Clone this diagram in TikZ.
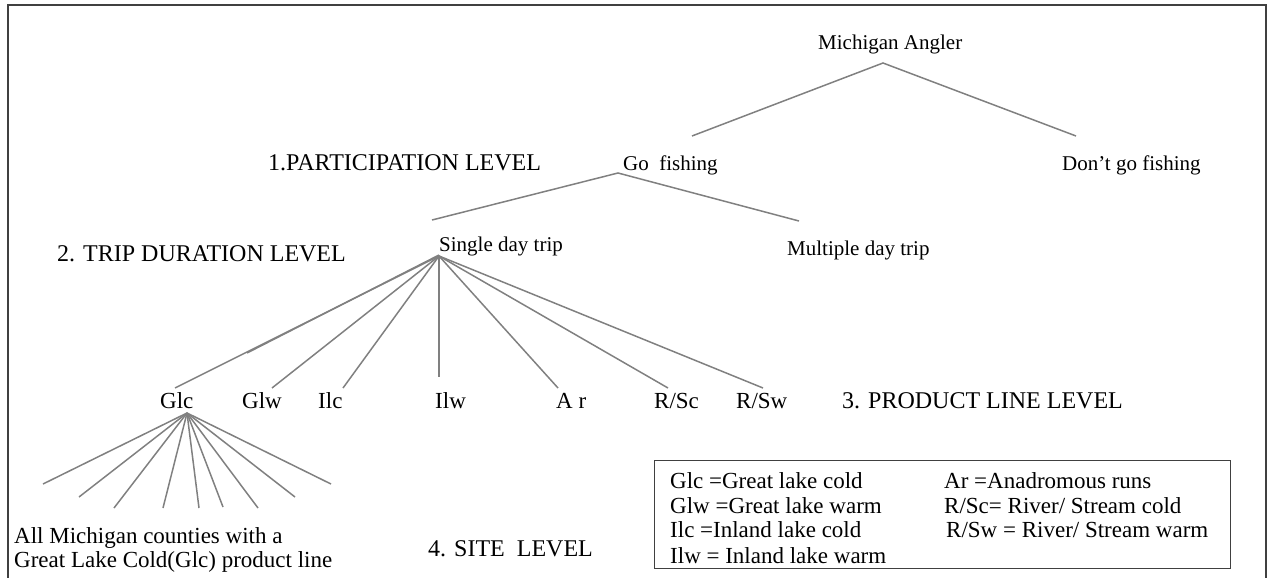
\documentclass[tikz,border=0pt]{standalone}
\usepackage{fontspec}
\setmainfont{Liberation Serif}
\begin{document}
\begin{tikzpicture}[x=1pt,y=-1pt,
  lvl/.style={font=\fontsize{24}{28}\selectfont, anchor=base west, inner sep=0pt},
  nd/.style={font=\fontsize{21}{25}\selectfont, anchor=base west, inner sep=0pt},
  pl/.style={font=\fontsize{23}{24}\selectfont, anchor=base west, inner sep=0pt},
  lg/.style={font=\fontsize{23}{27}\selectfont, anchor=base west, inner sep=0pt},
  br/.style={draw=black!50, line width=1.5pt},
  frame/.style={draw=black!75, line width=1.2pt}]
\useasboundingbox (0,0) rectangle (1274,578);
% frame
\draw[frame] (8,578) -- (8,5) -- (1266,5) -- (1266,578);

% level labels
\node[lvl] (l1) at (268,170) {1.PARTICIPATION LEVEL};
\node[lvl] (l2) at (57,261) {2. TRIP DURATION LEVEL};
\node[lvl] (l3) at (842,408) {3. PRODUCT LINE LEVEL};
\node[lvl] (l4) at (428,556) {4. SITE\ \ LEVEL};

% tree nodes
\node[nd] (ma) at (818,50) {Michigan Angler};
\node[nd] (go) at (623,170) {Go\ \ fishing};
\node[nd] (dgo) at (1062,170) {Don’t go fishing};
\node[nd] (sd) at (439,251) {Single day trip};
\node[nd] (md) at (787,255) {Multiple day trip};

\node[pl] (glc) at (160,408) {Glc};
\node[pl] (glw) at (242,408) {Glw};
\node[pl] (ilc) at (318,408) {Ilc};
\node[pl] (ilw) at (435,408) {Ilw};
\node[pl] (ar)  at (556,408) {A r};
\node[pl] (rsc) at (654,408) {R/Sc};
\node[pl] (rsw) at (736,408) {R/Sw};

\node[pl, align=left, anchor=base west] (all) at (14,567)
  {All Michigan counties with a\\Great Lake Cold(Glc) product line};

% connector points
\coordinate (maA) at (883,63);
\coordinate (maL) at (692,136);
\coordinate (maR) at (1076,136);
\coordinate (goA) at (618,173);
\coordinate (goL) at (432,220);
\coordinate (goR) at (799,221);
\coordinate (sdA) at (439,256);
\coordinate (eglc) at (175,388);
\coordinate (eglc2) at (247,353);
\coordinate (eglw) at (272,388);
\coordinate (eilc) at (343,388);
\coordinate (eilw) at (439,377);
\coordinate (ear) at (558,388);
\coordinate (ersc) at (668,388);
\coordinate (ersw) at (763,388);
\coordinate (glcA) at (187,413);
\coordinate (s1) at (43,484);
\coordinate (s2) at (79,497);
\coordinate (s3) at (114,508);
\coordinate (s4) at (163,508);
\coordinate (s5) at (199,508);
\coordinate (s6) at (223,507);
\coordinate (s7) at (258,508);
\coordinate (s8) at (295,497);
\coordinate (s9) at (331,484);

\draw[br] (maL) -- (maA) -- (maR);
\draw[br] (goL) -- (goA) -- (goR);
\foreach \e in {eglc,eglw,eilc,eilw,ear,ersc,ersw} \draw[br] (sdA) -- (\e);
\draw[br] ([yshift=1pt]sdA) -- (eglc2);
\foreach \e in {s1,s2,s3,s4,s5,s6,s7,s8,s9} \draw[br] (glcA) -- (\e);

% legend
\node[draw=black!75, line width=1.2pt, minimum width=576pt, minimum height=108pt, anchor=north west, inner sep=0pt] (box) at (654,460) {};
\node[lg] (k1) at (670,488) {Glc =Great lake cold};
\node[lg] (k2) at (670,513) {Glw =Great lake warm};
\node[lg] (k3) at (670,537) {Ilc =Inland lake cold};
\node[lg] (k4) at (670,563) {Ilw = Inland lake warm};
\node[lg] (k5) at (944,488) {Ar =Anadromous runs};
\node[lg] (k6) at (944,513) {R/Sc= River/ Stream cold};
\node[lg] (k7) at (946,537) {R/Sw = River/ Stream warm};
\end{tikzpicture}
\end{document}
